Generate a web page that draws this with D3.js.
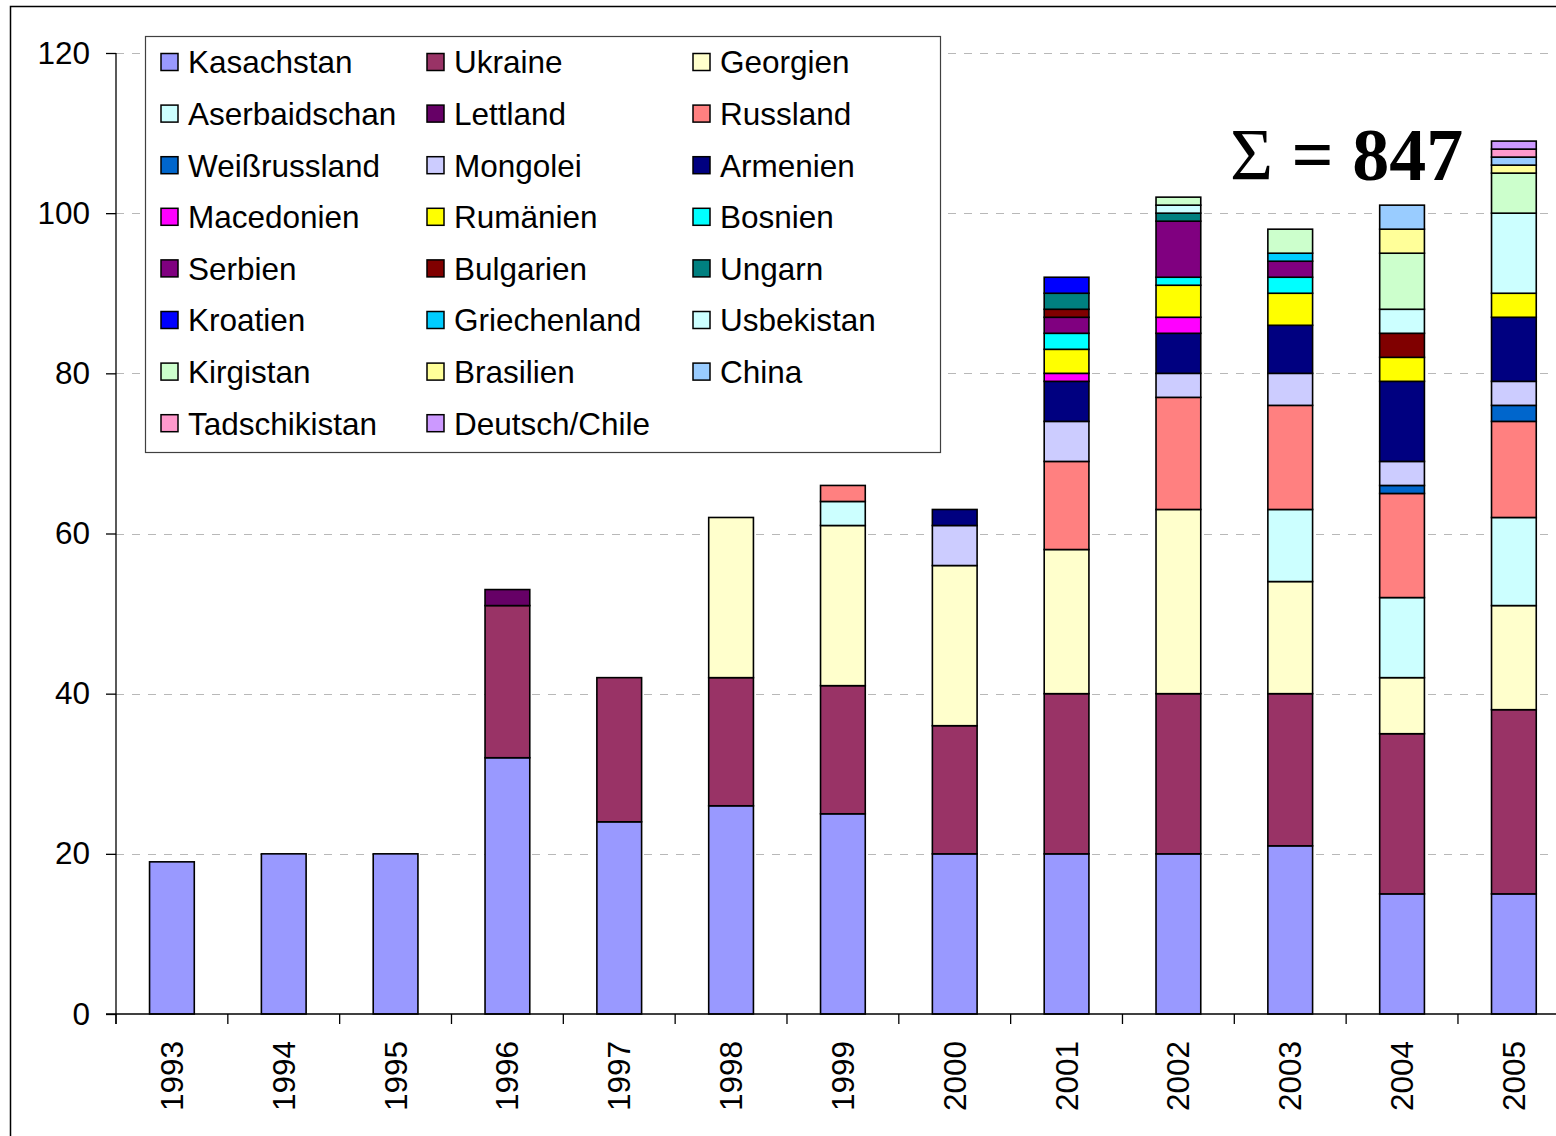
<!DOCTYPE html>
<html>
<head>
<meta charset="utf-8">
<script src="https://cdn.jsdelivr.net/npm/d3@7"></script>
<style>
  html, body { margin: 0; padding: 0; background: #fff; }
  svg { display: block; }
</style>
</head>
<body>
<svg id="chart" width="1556" height="1136"></svg>
<script>
const years = ["1993","1994","1995","1996","1997","1998","1999","2000","2001","2002","2003","2004","2005"];
const yTicks = [0, 20, 40, 60, 80, 100, 120];
const countries = ["Kasachstan","Ukraine","Georgien","Aserbaidschan","Lettland","Russland","Weißrussland","Mongolei","Armenien","Macedonien","Rumänien","Bosnien","Serbien","Bulgarien","Ungarn","Kroatien","Griechenland","Usbekistan","Kirgistan","Brasilien","China","Tadschikistan","Deutsch/Chile"];
const colors = ["#9999FF","#993366","#FFFFCC","#CCFFFF","#660066","#FF8080","#0066CC","#CCCCFF","#000080","#FF00FF","#FFFF00","#00FFFF","#800080","#800000","#008080","#0000FF","#00CCFF","#CCFFFF","#CCFFCC","#FFFF99","#99CCFF","#FF99CC","#CC99FF"];

//                   1993 94 95 96 97 98 99 00 01 02 03 04 05
const Kasachstan    = [19,20,20,32,24,26,25,20,20,20,21,15,15];
const Ukraine       = [ 0, 0, 0,19,18,16,16,16,20,20,19,20,23];
const Georgien      = [ 0, 0, 0, 0, 0,20,20,20,18,23,14, 7,13];
const Aserbaidschan = [ 0, 0, 0, 0, 0, 0, 3, 0, 0, 0, 9,10,11];
const Lettland      = [ 0, 0, 0, 2, 0, 0, 0, 0, 0, 0, 0, 0, 0];
const Russland      = [ 0, 0, 0, 0, 0, 0, 2, 0,11,14,13,13,12];
const Weissrussland = [ 0, 0, 0, 0, 0, 0, 0, 0, 0, 0, 0, 1, 2];
const Mongolei      = [ 0, 0, 0, 0, 0, 0, 0, 5, 5, 3, 4, 3, 3];
const Armenien      = [ 0, 0, 0, 0, 0, 0, 0, 2, 5, 5, 6,10, 8];
const Macedonien    = [ 0, 0, 0, 0, 0, 0, 0, 0, 1, 2, 0, 0, 0];
const Rumaenien     = [ 0, 0, 0, 0, 0, 0, 0, 0, 3, 4, 4, 3, 3];
const Bosnien       = [ 0, 0, 0, 0, 0, 0, 0, 0, 2, 1, 2, 0, 0];
const Serbien       = [ 0, 0, 0, 0, 0, 0, 0, 0, 2, 7, 2, 0, 0];
const Bulgarien     = [ 0, 0, 0, 0, 0, 0, 0, 0, 1, 0, 0, 3, 0];
const Ungarn        = [ 0, 0, 0, 0, 0, 0, 0, 0, 2, 1, 0, 0, 0];
const Kroatien      = [ 0, 0, 0, 0, 0, 0, 0, 0, 2, 0, 0, 0, 0];
const Griechenland  = [ 0, 0, 0, 0, 0, 0, 0, 0, 0, 0, 1, 0, 0];
const Usbekistan    = [ 0, 0, 0, 0, 0, 0, 0, 0, 0, 1, 0, 3,10];
const Kirgistan     = [ 0, 0, 0, 0, 0, 0, 0, 0, 0, 1, 3, 7, 5];
const Brasilien     = [ 0, 0, 0, 0, 0, 0, 0, 0, 0, 0, 0, 3, 1];
const China         = [ 0, 0, 0, 0, 0, 0, 0, 0, 0, 0, 0, 3, 1];
const Tadschikistan = [ 0, 0, 0, 0, 0, 0, 0, 0, 0, 0, 0, 0, 1];
const DeutschChile  = [ 0, 0, 0, 0, 0, 0, 0, 0, 0, 0, 0, 0, 1];
const totalLabel = "847";

const seriesValues = [Kasachstan,Ukraine,Georgien,Aserbaidschan,Lettland,Russland,Weissrussland,Mongolei,Armenien,Macedonien,Rumaenien,Bosnien,Serbien,Bulgarien,Ungarn,Kroatien,Griechenland,Usbekistan,Kirgistan,Brasilien,China,Tadschikistan,DeutschChile];

const table = years.map((yr, i) => {
  const row = { year: yr };
  countries.forEach((c, k) => { row[c] = seriesValues[k][i]; });
  return row;
});

const SANS = '"Liberation Sans", Arial, sans-serif';
const SERIF = '"Liberation Serif", "Times New Roman", serif';
const FS = 31.5;

const svg = d3.select("#chart");

// outer frame
svg.append("rect").attr("x", 10.5).attr("y", 6.5).attr("width", 1600).attr("height", 1200)
  .attr("fill", "none").attr("stroke", "#000").attr("stroke-width", 1.5);

const x = d3.scaleBand().domain(years).range([116, 1569.8]).paddingInner(0.6).paddingOuter(0.3);
const y = d3.scaleLinear().domain([0, 120]).range([1014, 53]);

// gridlines
svg.append("g").selectAll("line").data(yTicks.filter(t => t > 0)).join("line")
  .attr("x1", 116).attr("x2", 1556)
  .attr("y1", d => Math.round(y(d)) + 0.5).attr("y2", d => Math.round(y(d)) + 0.5)
  .attr("stroke", "#b8b8b8").attr("stroke-width", 1.2).attr("stroke-dasharray", "8,8");

// bars
const stacked = d3.stack().keys(countries)(table);
const barG = svg.append("g");
stacked.forEach((s, k) => {
  barG.append("g").attr("fill", colors[k])
    .selectAll("rect").data(s.filter(d => d[1] - d[0] > 0)).join("rect")
    .attr("x", d => x(d.data.year))
    .attr("width", x.bandwidth())
    .attr("y", d => y(d[1]))
    .attr("height", d => y(d[0]) - y(d[1]))
    .attr("stroke", "#000").attr("stroke-width", 1.6);
});

// y axis
const yAxis = d3.axisLeft(y).tickValues(yTicks).tickSize(10).tickPadding(16).tickSizeOuter(0);
const gy = svg.append("g").attr("transform", "translate(116,0)").call(yAxis);
gy.select(".domain").remove();
gy.append("line").attr("x1", 0).attr("x2", 0).attr("y1", y(120)).attr("y2", 1024).attr("stroke", "#000").attr("stroke-width", 1.3);
gy.selectAll(".tick line").attr("stroke", "#000").attr("stroke-width", 1.3);
gy.selectAll(".tick text").style("font-size", FS + "px").style("font-family", SANS).attr("fill", "#000");

// x axis
const xAxis = d3.axisBottom(x).tickSize(0).tickSizeOuter(0);
const gx = svg.append("g").attr("transform", "translate(0,1014)").call(xAxis);
gx.select(".domain").remove();
gx.append("line").attr("x1", 106).attr("x2", 1556).attr("y1", 0).attr("y2", 0).attr("stroke", "#000").attr("stroke-width", 1.3);
const step = x.step();
const boundaries = d3.range(0, years.length + 1).map(i => 116 + i * step);
gx.selectAll(".btick").data(boundaries).join("line").attr("class", "btick")
  .attr("x1", d => d).attr("x2", d => d).attr("y1", 0).attr("y2", 10)
  .attr("stroke", "#000").attr("stroke-width", 1.3);
gx.selectAll(".tick text")
  .style("font-size", FS + "px").style("font-family", SANS).attr("fill", "#000")
  .attr("transform", "rotate(-90)")
  .attr("text-anchor", "end")
  .attr("x", -27).attr("y", 0).attr("dy", "0.35em");

// legend
const leg = svg.append("g");
leg.append("rect").attr("x", 145.5).attr("y", 36.5).attr("width", 795).attr("height", 416)
  .attr("fill", "#fff").attr("stroke", "#404040").attr("stroke-width", 1.2);
const colX = [161, 427, 693];
const rowY0 = 62, rowStep = 51.6;
countries.forEach((c, k) => {
  const col = k % 3, row = Math.floor(k / 3);
  const cy = rowY0 + row * rowStep;
  leg.append("rect").attr("x", colX[col]).attr("y", cy - 8.5).attr("width", 17).attr("height", 17)
    .attr("fill", colors[k]).attr("stroke", "#000").attr("stroke-width", 1.5);
  leg.append("text").attr("x", colX[col] + 27).attr("y", cy).attr("dy", "0.36em")
    .style("font-size", FS + "px").style("font-family", SANS).attr("fill", "#000").text(c);
});

// sum label
const sumT = svg.append("text").attr("x", 1230).attr("y", 180)
  .style("font-family", SERIF).style("font-size", "74px").attr("fill", "#000");
sumT.append("tspan").style("font-weight", "normal").text("Σ ");
sumT.append("tspan").style("font-weight", "bold").text("= " + totalLabel);
</script>
</body>
</html>
